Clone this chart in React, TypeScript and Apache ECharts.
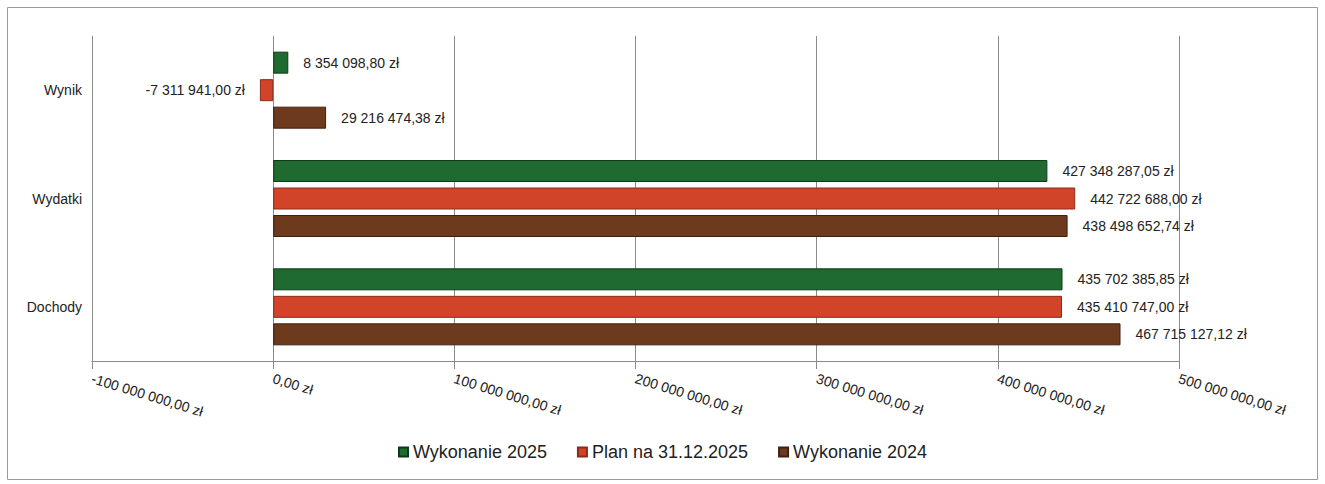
import React, { useEffect, useRef } from "react";
import * as echarts from "echarts";

const categories = ["Dochody", "Wydatki", "Wynik"];
const wykonanie2025 = [435702385.85, 427348287.05, 8354098.8];
const plan2025 = [435410747.0, 442722688.0, -7311941.0];
const wykonanie2024 = [467715127.12, 438498652.74, 29216474.38];
const seriesNames = ["Wykonanie 2025", "Plan na 31.12.2025", "Wykonanie 2024"];

const FONT = "Liberation Sans";

function fmt(v: number): string {
  const neg = v < 0;
  const [i, d] = Math.abs(v).toFixed(2).split(".");
  const grouped = i.replace(/\B(?=(\d{3})+(?!\d))/g, " ");
  return (neg ? "-" : "") + grouped + "," + d + " zł";
}

function makeData(vals: number[]) {
  return vals.map((v) => ({
    value: v,
    label: { position: v < 0 ? "left" : "right" },
  }));
}

export default function App() {
  const ref = useRef<HTMLDivElement>(null);
  useEffect(() => {
    if (!ref.current) return;
    const chart = echarts.init(ref.current, undefined, { renderer: "svg" });
    const mk = (name: string, vals: number[], color: string, border: string) => ({
      name,
      type: "bar",
      data: makeData(vals),
      barWidth: 22,
      barGap: "25%",
      itemStyle: { color, borderColor: border, borderWidth: 1 },
      label: {
        show: true,
        distance: 15,
        fontFamily: FONT,
        fontSize: 14,
        color: "#222",
        formatter: (p: any) => fmt(p.value),
      },
    });
    chart.setOption({
      animation: false,
      backgroundColor: "#fff",
      graphic: [
        {
          type: "rect",
          shape: { x: 7.5, y: 7.5, width: 1310, height: 472 },
          style: { fill: "none", stroke: "#9a9a9a", lineWidth: 1 },
          silent: true,
        },
      ],
      legend: {
        data: seriesNames,
        bottom: 18,
        left: "center",
        itemWidth: 9,
        itemHeight: 9,
        itemGap: 30,
        icon: "rect",
        textStyle: { fontFamily: FONT, fontSize: 18, color: "#222" },
      },
      grid: { left: 92, right: 146, top: 36, bottom: 123, containLabel: false },
      xAxis: {
        type: "value",
        min: -100000000,
        max: 500000000,
        interval: 100000000,
        axisLine: { show: true, lineStyle: { color: "#8a8a8a" } },
        axisTick: { show: true, length: 8, lineStyle: { color: "#8a8a8a" } },
        splitLine: { show: true, lineStyle: { color: "#8a8a8a", width: 1 } },
        axisLabel: {
          rotate: -17,
          margin: 17,
          fontFamily: FONT,
          fontSize: 14,
          color: "#222",
          formatter: (v: number) => fmt(v),
        },
      },
      yAxis: {
        type: "category",
        data: categories,
        position: "left",
        axisLine: { show: false, onZero: false },
        axisTick: { show: false },
        axisLabel: { margin: 10, fontFamily: FONT, fontSize: 14, color: "#222" },
      },
      series: [
        mk(seriesNames[0], wykonanie2025, "#1f6a30", "#0f3a18"),
        mk(seriesNames[1], plan2025, "#d1442a", "#8e2a18"),
        mk(seriesNames[2], wykonanie2024, "#6e3a1d", "#3e2010"),
      ],
    });
    return () => chart.dispose();
  }, []);
  return (
    <div
      ref={ref}
      style={{ position: "absolute", left: 0, top: 0, width: 1325, height: 484 }}
    />
  );
}
